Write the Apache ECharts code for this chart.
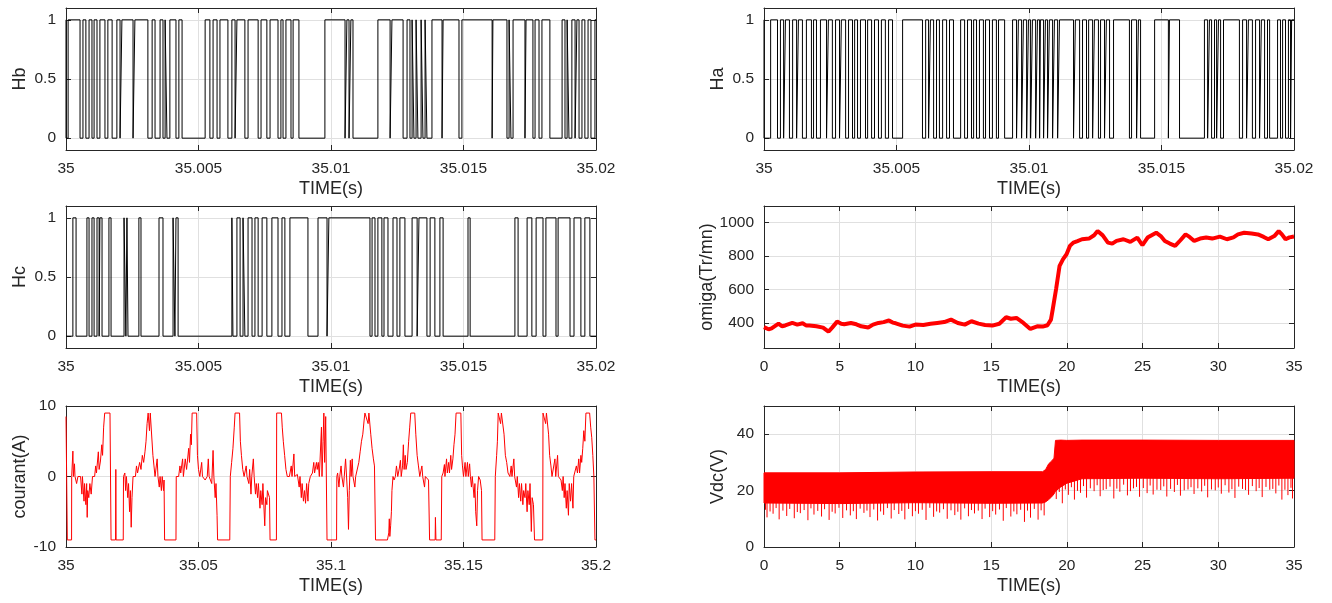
<!DOCTYPE html>
<html>
<head>
<meta charset="utf-8">
<script src="https://cdn.jsdelivr.net/npm/echarts@6/dist/echarts.min.js"></script>
<style>html,body{margin:0;padding:0;background:#fff}#c{width:1332px;height:603px}</style>
</head>
<body>
<div id="c"></div>
<script>
// ---------- DATA ----------
// Switching signals: time offsets (ms after t = 35 s)
const hbLowMs = [[0,0.08],[0.53,0.64],[0.75,0.87],[0.98,1.06],[1.17,1.28],[1.47,1.58],[1.74,1.92],[2.04,2.11],[2.53,2.60],[3.09,3.25],[3.36,3.55],[3.66,3.74],[3.81,3.92],[4.15,4.26],[4.38,5.25],[5.43,5.55],[5.70,5.81],[6.11,6.26],[6.38,6.45],[6.75,6.87],[7.25,7.36],[7.58,7.70],[8.00,8.11],[8.19,8.30],[8.49,8.57],[8.79,9.77],[10.53,10.60],[10.68,10.75],[10.83,11.77],[12.23,12.30],[12.72,12.87],[12.98,13.06],[13.13,13.21],[13.28,13.40],[13.47,13.55],[13.62,13.81],[14.19,14.23],[14.83,14.94],[16.08,16.11],[16.64,16.72],[16.79,16.87],[17.32,17.36],[17.62,17.70],[17.85,17.96],[18.26,18.72],[18.83,18.91],[18.98,19.09],[19.21,19.28],[19.36,19.47],[19.58,19.70],[19.81,19.96]];
const haLowMs = [[0,0.25],[0.51,0.62],[0.74,0.81],[0.96,1.08],[1.23,1.30],[1.45,1.60],[1.79,1.87],[1.98,2.13],[2.36,2.43],[2.58,2.70],[2.85,2.92],[3.08,3.19],[3.34,3.42],[3.53,3.64],[3.83,3.91],[4.06,4.17],[4.32,4.43],[4.58,4.70],[4.85,5.23],[5.98,6.10],[6.21,6.28],[6.40,6.51],[6.62,6.74],[6.89,7.00],[7.15,7.42],[7.57,7.68],[7.83,7.91],[8.02,8.13],[8.28,8.36],[8.51,8.62],[8.77,8.85],[9.08,9.38],[9.53,9.60],[9.72,9.79],[9.91,9.98],[10.06,10.13],[10.25,10.32],[10.40,10.43],[10.55,10.62],[10.70,10.77],[10.89,10.96],[11.08,11.15],[11.68,11.75],[11.91,12.02],[12.17,12.25],[12.40,12.47],[12.62,12.70],[12.85,12.92],[13.04,13.19],[13.79,13.87],[14.06,14.13],[14.21,14.74],[15.26,15.30],[15.68,16.62],[16.74,16.81],[16.89,17.00],[17.08,17.15],[17.23,17.34],[17.94,18.06],[18.21,18.28],[18.43,18.55],[18.70,18.77],[18.89,19.00],[19.08,19.38],[19.49,19.57],[19.68,19.79],[19.87,19.91]];
const hcHighMs = [[0.26,0.38],[0.79,0.87],[0.98,1.06],[1.17,1.25],[1.28,1.36],[1.62,1.70],[2.19,2.26],[2.30,2.34],[2.75,2.83],[3.51,3.66],[4.04,4.11],[4.15,4.23],[6.26,6.30],[6.45,6.57],[6.68,6.75],[6.87,7.02],[7.13,7.25],[7.40,7.58],[7.77,8.00],[8.15,8.26],[8.45,9.13],[9.51,9.85],[9.92,11.47],[11.55,11.66],[11.77,11.92],[12.00,12.15],[12.34,12.49],[12.60,12.79],[13.06,13.25],[13.32,13.62],[13.74,13.92],[14.11,14.23],[15.17,15.25],[16.94,17.06],[17.40,17.58],[17.74,18.00],[18.11,18.49],[18.57,19.02],[19.17,19.43],[19.58,19.77]];

// Phase current: [ms after 35 s, A]
const currentSamples = [[0,8.5],[0.4,8.5],[0.5,-9],[2.1,-9],[2.15,0],[2.6,3.6],[2.8,0],[3.2,1.8],[3.4,0],[4.0,-1],[4.5,0],[5.5,0],[6.0,-2.5],[6.2,0],[6.8,-3.5],[7.0,-1],[7.5,-4],[7.8,-1],[8.0,-5.8],[8.2,-2],[8.6,-3],[9.0,-1],[9.5,-2.5],[10.0,0],[10.8,0],[11.2,1.5],[11.5,0.5],[12.2,3.5],[12.5,1],[13.0,2.2],[13.5,4.5],[13.8,3],[14.2,7],[14.6,9],[16.6,9],[17.0,-9],[18.7,-9],[18.8,1],[18.9,-9],[21.6,-9],[21.7,0],[22.2,0.5],[22.5,-2],[22.8,0],[23.3,-3],[23.6,-1],[24.0,-5],[24.3,-2],[24.6,-7.2],[24.9,-3],[25.3,0],[26.2,0],[26.6,1.5],[27.0,0.5],[27.8,2],[28.3,1],[28.8,3],[29.3,2],[29.8,3.5],[30.2,5],[30.6,7.5],[31.0,9],[31.5,6.5],[31.8,9],[32.5,9],[32.8,3],[33.2,1.5],[33.6,0],[34.4,2.5],[34.7,0],[35.2,-1.5],[35.5,0],[36.0,-2],[36.3,0],[36.8,-2],[37.0,-0.5],[37.2,-9],[41.5,-9],[41.6,0],[42.5,0],[43.0,1.5],[43.3,0.5],[44.0,2.5],[44.3,0],[45.0,2.5],[45.5,1],[46.3,4],[46.6,2],[47.0,6],[47.3,4.5],[47.6,9],[49.3,9],[49.6,3],[50.0,1],[50.5,0],[51.2,2],[51.5,0],[52.5,-0.5],[53.3,0],[53.7,2.5],[54.0,0],[55.0,-1],[55.5,3.7],[55.8,0],[56.3,-3],[56.6,-1],[57.0,-5.5],[57.2,-9],[61.8,-9],[62.0,0],[62.5,2],[63.0,4],[63.5,7],[63.8,9],[65.5,9],[65.8,5],[66.2,3],[66.7,1],[67.2,0],[68.0,1.5],[68.3,0],[69.0,-1],[69.3,1],[69.8,-2.5],[70.1,0],[70.7,2.5],[71.0,0],[71.5,-2.5],[71.8,-1],[72.3,-3],[72.6,-1],[73.2,-4.5],[73.5,-2],[74.0,-4],[74.3,-1],[75.0,-7],[75.3,-3],[75.8,-4],[76.0,-2],[76.8,-3],[77.0,-9],[79.4,-9],[79.5,9],[81.3,9],[81.6,7],[82.0,5],[82.5,3],[83.0,1],[83.5,0],[84.3,0],[85.0,1.5],[85.3,0],[86.0,3.2],[86.3,0],[87.3,0.3],[88.0,-1.5],[88.3,0],[88.8,-3],[89.1,-1],[89.6,-3.5],[90.0,-2],[90.4,-3.8],[90.8,-1],[91.3,-3.5],[91.6,-1],[92.2,0],[93.0,0.5],[93.5,2],[93.8,0.5],[94.5,2],[94.8,1],[95.2,2],[95.6,0],[96.0,0],[96.4,7],[96.6,0],[97.0,5],[97.3,9],[97.6,2],[98.0,8.5],[98.3,8.5],[98.5,-9],[102.1,-9],[102.2,0],[102.5,0.5],[103.0,-1.5],[103.3,0],[103.8,1.5],[104.1,0],[104.7,-1.5],[105.0,0],[105.5,2.5],[105.8,0.5],[106.3,-3],[106.6,-7.5],[106.9,-2],[107.3,2.3],[107.6,0],[108.0,2.5],[108.3,0],[109.0,-1.5],[109.3,0],[110.0,0],[110.5,2],[111.0,3.5],[111.5,5],[112.0,6],[112.5,8],[112.8,9],[114.0,7.5],[114.3,9],[114.6,9],[115.0,6],[115.5,4],[116.0,2.5],[116.4,1.5],[116.8,-9],[121.3,-9],[121.8,-8],[122.0,-6],[122.2,-8.5],[122.5,-7],[122.8,-5],[123.0,-2],[123.4,0],[123.8,-0.5],[124.3,0],[124.7,1.5],[125.2,0],[125.8,1.2],[126.2,2.3],[126.5,0],[127.0,1.5],[127.3,4.5],[127.6,1],[128.0,3],[128.3,1],[128.8,2],[129.3,5],[129.7,7],[130.1,9],[131.6,9],[132.0,6],[132.5,3],[133.0,1.5],[133.5,0],[134.0,0],[134.3,1.5],[134.6,0],[135.3,-1.5],[135.6,0],[136.3,0],[136.8,-0.5],[137.2,-9],[139.3,-9],[139.4,-5.8],[139.6,-9],[141.6,-9],[141.8,0],[142.3,0.5],[142.8,1.7],[143.0,0],[143.6,2.5],[143.9,0.5],[144.4,2],[144.7,0.5],[145.2,3],[145.5,1],[146.0,2.5],[146.4,4.5],[146.8,6],[147.2,9],[149.0,9],[149.3,3],[149.6,1.5],[150.0,0],[150.6,2],[150.9,0],[151.5,2],[151.8,0],[152.3,1.8],[152.6,0],[153.0,-1.5],[153.3,0],[154.0,-3],[154.3,-1],[154.6,-5],[155.0,-7],[155.3,-2],[155.7,0],[156.3,-0.5],[156.8,-2],[157.0,-9],[161.8,-9],[162.0,0],[162.5,3],[162.8,5],[163.1,9],[164.0,7.5],[164.3,9],[165.0,9],[165.3,6],[165.8,3],[166.3,2],[166.8,0.5],[167.5,0],[168.0,1.5],[168.3,0],[169.0,2.5],[169.3,0],[170.0,-1.5],[170.3,0],[170.8,-3],[171.1,-1],[171.6,-3.5],[171.9,-1],[172.4,-4],[172.7,-2],[173.2,-3],[173.5,-1],[174.0,-5],[174.3,-2],[174.8,-4],[175.1,-1],[175.6,-7.8],[175.9,-3],[176.4,-4],[176.8,-9],[179.9,-9],[180.0,9],[181.0,7.5],[181.3,9],[181.8,9],[182.1,6],[182.5,3],[183.0,1.5],[183.4,0],[184.0,0],[184.5,2.5],[184.8,0],[185.5,3],[185.8,0],[186.3,0],[186.8,-0.5],[187.3,-2],[187.6,0],[188.0,-3],[188.3,-1],[188.8,-4.5],[189.1,-2],[189.6,-5.5],[189.9,-1],[190.4,-3.5],[190.8,-1],[191.3,-4.5],[191.6,0],[192.2,0],[192.6,1.5],[193.0,0.5],[193.5,2.5],[193.8,0.5],[194.3,3],[194.6,2],[195.0,4],[195.4,6.5],[195.8,5],[196.2,9],[197.6,9],[198.0,7],[198.4,5.5],[198.8,3],[199.2,0],[199.6,-9],[200,-9]];

// Speed omega: [s, Tr/mn]
const omegaSamples = [[0,375],[0.3,362],[0.5,368],[0.96,396],[1.2,380],[1.4,385],[1.87,400],[2.2,390],[2.55,398],[2.8,384],[3.0,385],[3.46,380],[3.9,372],[4.26,348],[4.5,372],[4.83,408],[5.1,395],[5.3,392],[5.74,400],[6.1,392],[6.42,380],[6.88,373],[7.2,390],[7.56,400],[7.9,405],[8.25,415],[8.5,402],[8.7,398],[9.16,384],[9.61,378],[10.0,390],[10.52,388],[11.0,395],[11.44,400],[11.9,405],[12.35,420],[12.8,400],[13.26,390],[13.7,410],[14.17,396],[14.6,388],[15.08,384],[15.54,395],[15.99,434],[16.3,425],[16.67,430],[17.13,400],[17.59,364],[18.04,380],[18.4,378],[18.72,386],[18.95,420],[19.07,483],[19.29,603],[19.52,742],[19.75,782],[19.98,811],[20.2,861],[20.43,881],[20.7,890],[21.0,901],[21.46,905],[21.8,925],[22.03,950],[22.37,924],[22.71,881],[23.0,875],[23.28,891],[23.74,901],[24.19,885],[24.65,911],[24.99,865],[25.33,911],[25.6,925],[25.9,940],[26.2,920],[26.47,891],[26.8,875],[27.15,861],[27.5,895],[27.84,930],[28.1,915],[28.41,891],[28.8,905],[29.2,911],[29.6,905],[30.11,917],[30.57,901],[31.0,912],[31.3,930],[31.71,940],[32.2,935],[32.62,930],[33.0,915],[33.3,901],[33.7,920],[33.99,950],[34.2,930],[34.44,901],[34.7,912],[35.0,917]];

// Vdc: dense ripple band (upper / lower envelope) and downward spikes
const vdcT     = [0, 5, 10, 15, 18.4, 18.6, 18.8, 19.0, 19.15, 19.25, 19.6, 20.0, 21.0, 25, 30, 35];
const vdcUpper = [26.3, 26.3, 26.6, 26.7, 26.7, 27.5, 29.5, 30.5, 31.5, 37.8, 37.9, 37.8, 37.9, 37.9, 37.8, 37.8];
const vdcLower = [15.6, 15.4, 15.7, 15.5, 15.6, 16.0, 16.8, 17.8, 18.8, 19.8, 21.3, 22.6, 24.2, 24.4, 24.2, 24.4];
const vdcDeepT = [0.2,0.6,1.0,1.5,2.0,2.4,2.9,3.3,3.8,4.3,4.7,5.2,5.7,6.1,6.6,7.0,7.5,7.9,8.4,8.9,9.3,9.8,10.2,10.7,11.2,11.6,12.1,12.6,13.0,13.5,13.9,14.4,14.9,15.3,15.8,16.3,16.7,17.2,17.6,18.1,18.5,19.3,19.7,20.1,20.5,20.9,21.3,21.8,22.2,22.6,23.1,23.5,24.0,24.4,24.8,25.3,25.7,26.2,26.6,27.1,27.5,28.0,28.4,28.9,29.3,29.8,30.2,30.7,31.1,31.6,32.0,32.5,32.9,33.4,33.8,34.2,34.6,34.9];
const vdcDeepV = [10.5,11.8,9.8,11.0,10.2,12.0,9.5,11.5,10.8,9.6,11.9,10.3,11.2,9.9,12.1,10.6,9.4,11.4,10.1,11.7,9.8,10.9,11.8,9.6,10.7,12.2,10.0,11.3,9.7,10.9,11.9,9.9,10.6,11.5,9.3,10.8,11.6,8.9,10.4,9.7,11.2,17.0,15.5,18.5,16.8,19.2,17.5,19.8,18.0,20.5,17.2,19.6,18.3,20.8,17.8,19.1,18.6,20.2,17.9,19.5,18.2,20.4,18.8,19.7,17.6,20.1,18.9,19.3,17.4,20.6,18.5,19.8,17.7,20.3,19.0,16.8,18.4,17.2];
const vdcMidT = [0.1,0.4,0.8,1.25,1.7,2.2,2.65,3.1,3.55,4.0,4.5,4.95,5.45,5.9,6.35,6.8,7.25,7.7,8.15,8.6,9.1,9.55,10.0,10.45,10.95,11.4,11.85,12.35,12.8,13.25,13.7,14.15,14.6,15.1,15.55,16.0,16.5,16.95,17.4,17.85,18.3,19.5,19.9,20.3,20.7,21.1,21.55,22.0,22.4,22.85,23.3,23.75,24.2,24.6,25.05,25.5,25.95,26.4,26.85,27.3,27.75,28.2,28.65,29.1,29.55,30.0,30.45,30.9,31.35,31.8,32.25,32.7,33.15,33.6,34.0,34.4,34.8];
const vdcMidV = [13.2,12.6,13.8,12.9,13.5,12.4,13.1,13.7,12.8,13.4,12.5,13.9,13.0,12.7,13.6,12.9,13.3,12.6,13.8,13.1,12.8,13.5,12.7,13.2,13.9,12.6,13.4,13.0,12.5,13.7,13.1,12.9,13.6,12.7,13.3,13.8,12.6,13.2,12.9,13.5,13.0,19.5,20.4,21.2,19.9,21.6,20.8,21.9,20.2,21.4,20.7,22.1,19.8,21.3,20.9,21.8,20.3,21.5,20.6,22.0,20.1,21.2,20.8,21.7,20.4,21.1,21.9,20.5,21.4,20.2,21.6,20.9,21.3,20.6,21.8,20.3,21.0];

// Axis ticks
const hTimeTicks = [35, 35.005, 35.01, 35.015, 35.02];
const hValueTicks = [0, 0.5, 1];
const curTimeTicks = [35, 35.05, 35.1, 35.15, 35.2];
const curValueTicks = [-10, 0, 10];
const longTimeTicks = [0, 5, 10, 15, 20, 25, 30, 35];
const omegaTicks = [400, 600, 800, 1000];
const vdcTicks = [0, 20, 40];

// ---------- BUILD ----------
const FONT = '"Liberation Sans", Arial, Helvetica, sans-serif';
const AX = '#262626', GRID = '#e0e0e0';
const T0 = 35;
function msToS(ms) { return T0 + ms / 1000; }
function stepSeries(intervals, base) {
  const other = 1 - base;
  const pts = [[T0, base]];
  intervals.forEach(([a, b]) => {
    pts.push([msToS(a), base], [msToS(a), other], [msToS(b), other], [msToS(b), base]);
  });
  pts.push([msToS(20), base]);
  return pts;
}
const fmt = v => String(+(+v).toFixed(4));

const grids = [
  {left: 66, top: 8, width: 530, height: 142},
  {left: 764, top: 8, width: 530, height: 142},
  {left: 66, top: 206, width: 530, height: 142},
  {left: 764, top: 206, width: 530, height: 142},
  {left: 66, top: 406, width: 530, height: 141},
  {left: 764, top: 406, width: 530, height: 141}
];
const xAxes = [], yAxes = [];
function addAxes(g, xr, xt, yr, yt, yName) {
  const tick = (vals) => ({show: true, inside: true, length: 5, customValues: vals, lineStyle: {color: AX, width: 1}});
  const line = {show: true, onZero: false, lineStyle: {color: AX, width: 1}};
  xAxes.push({type: 'value', gridIndex: g, position: 'bottom', min: xr[0], max: xr[1],
    axisLine: line, axisTick: tick(xt),
    axisLabel: {customValues: xt, margin: 11, color: AX, fontSize: 15.5, fontFamily: FONT, formatter: fmt, showMinLabel: true, showMaxLabel: true},
    splitLine: {show: true, lineStyle: {color: GRID, width: 1}},
    name: 'TIME(s)', nameLocation: 'middle', nameGap: 30,
    nameTextStyle: {color: AX, fontSize: 18, fontFamily: FONT}});
  xAxes.push({type: 'value', gridIndex: g, position: 'top', min: xr[0], max: xr[1],
    axisLine: line, axisTick: tick(xt), axisLabel: {show: false}, splitLine: {show: false}});
  yAxes.push({type: 'value', gridIndex: g, position: 'left', min: yr[0], max: yr[1],
    axisLine: line, axisTick: tick(yt),
    axisLabel: {customValues: yt, margin: 10, color: AX, fontSize: 15.5, fontFamily: FONT, formatter: fmt},
    splitLine: {show: true, lineStyle: {color: GRID, width: 1}},
    name: yName, nameLocation: 'middle', nameGap: 37,
    nameTextStyle: {color: AX, fontSize: 18, fontFamily: FONT}});
  yAxes.push({type: 'value', gridIndex: g, position: 'right', min: yr[0], max: yr[1],
    axisLine: line, axisTick: tick(yt), axisLabel: {show: false}, splitLine: {show: false}});
}
addAxes(0, [35, 35.02], hTimeTicks, [-0.1, 1.1], hValueTicks, 'Hb');
addAxes(1, [35, 35.02], hTimeTicks, [-0.1, 1.1], hValueTicks, 'Ha');
addAxes(2, [35, 35.02], hTimeTicks, [-0.1, 1.1], hValueTicks, 'Hc');
addAxes(3, [0, 35], longTimeTicks, [250, 1100], omegaTicks, 'omiga(Tr/mn)');
addAxes(4, [35, 35.2], curTimeTicks, [-10, 10], curValueTicks, 'courant(A)');
addAxes(5, [0, 35], longTimeTicks, [0, 50], vdcTicks, 'Vdc(V)');

const lineBase = {type: 'line', showSymbol: false, symbol: 'none', animation: false, clip: true};
function spikeSeries(ts, vs) {
  return {type: 'custom', xAxisIndex: 10, yAxisIndex: 10, animation: false,
    data: ts.map((t, i) => [t, vs[i]]), encode: {x: 0, y: 1},
    renderItem: function (params, api) {
      const t = api.value(0), v = api.value(1);
      const p0 = api.coord([t, v]), p1 = api.coord([t, v + 9]);
      return {type: 'line', shape: {x1: p0[0], y1: p0[1], x2: p1[0], y2: p1[1]}, style: {stroke: '#ff0000', lineWidth: 1}};
    }};
}
const series = [
  Object.assign({}, lineBase, {xAxisIndex: 0, yAxisIndex: 0, data: stepSeries(hbLowMs, 1), lineStyle: {color: '#000', width: 1}}),
  Object.assign({}, lineBase, {xAxisIndex: 2, yAxisIndex: 2, data: stepSeries(haLowMs, 1), lineStyle: {color: '#000', width: 1}}),
  Object.assign({}, lineBase, {xAxisIndex: 4, yAxisIndex: 4, data: stepSeries(hcHighMs, 0), lineStyle: {color: '#000', width: 1}}),
  Object.assign({}, lineBase, {xAxisIndex: 6, yAxisIndex: 6, data: omegaSamples, lineStyle: {color: '#ff0000', width: 4}}),
  Object.assign({}, lineBase, {xAxisIndex: 8, yAxisIndex: 8, data: currentSamples.map(([ms, a]) => [T0 + ms / 1000, a]), lineStyle: {color: '#ff0000', width: 1}}),
  {type: 'custom', xAxisIndex: 10, yAxisIndex: 10, animation: false, data: [[0, 0]],
    renderItem: function (params, api) {
      const pts = [];
      for (let i = 0; i < vdcT.length; i++) pts.push(api.coord([vdcT[i], vdcUpper[i]]));
      for (let i = vdcT.length - 1; i >= 0; i--) pts.push(api.coord([vdcT[i], vdcLower[i]]));
      return {type: 'polygon', shape: {points: pts}, style: {fill: '#ff0000', stroke: '#ff0000', lineWidth: 1}};
    }},
  spikeSeries(vdcDeepT, vdcDeepV),
  spikeSeries(vdcMidT, vdcMidV)
];

const chart = echarts.init(document.getElementById('c'), null, {renderer: 'canvas'});
chart.setOption({
  backgroundColor: '#fff',
  animation: false,
  grid: grids,
  xAxis: xAxes,
  yAxis: yAxes,
  series: series
});
</script>
</body>
</html>
